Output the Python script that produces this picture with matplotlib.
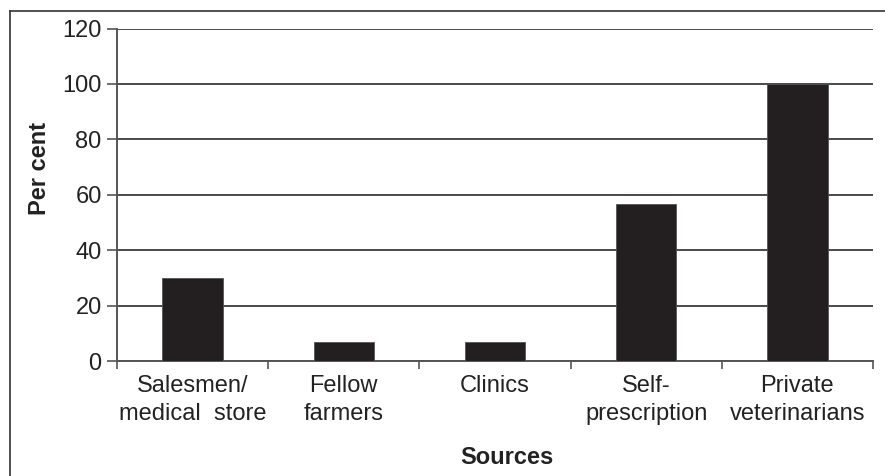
import matplotlib
matplotlib.use("Agg")
from matplotlib import pyplot as plt
from matplotlib.lines import Line2D

plt.rcParams['font.family'] = ['Liberation Sans', 'DejaVu Sans']

sources = ["Salesmen/\nmedical  store", "Fellow\nfarmers", "Clinics",
           "Self-\nprescription", "Private\nveterinarians"]
per_cent = [30, 7, 7, 56.5, 100]
y_ticks = [0, 20, 40, 60, 80, 100, 120]

W, H = 885, 476
fig = plt.figure(figsize=(W / 100, H / 100), dpi=100)
ax = fig.add_axes([117 / W, 1 - 361 / H, (873 - 117) / W, (361 - 28.5) / H])

pos = list(range(len(sources)))
ax.bar(pos, per_cent, width=0.4, color="#231f20", edgecolor="#555555", linewidth=0.6, zorder=3)

ax.set_xlim(-0.5, len(sources) - 0.5)
ax.set_ylim(0, 120)
ax.set_yticks(y_ticks)
ax.yaxis.grid(True, color="#4a4a4a", linewidth=1.4)
ax.set_axisbelow(True)

# boundary ticks without labels, labels on minor ticks at the centres
ax.set_xticks([p - 0.5 for p in pos] + [len(sources) - 0.5])
ax.set_xticklabels([])
ax.set_xticks(pos, minor=True)
ax.set_xticklabels(sources, minor=True, fontsize=17, color="#222222", linespacing=1.35)
ax.tick_params(axis="x", which="major", length=6, width=1.2, color="#555555", direction="out")
ax.tick_params(axis="x", which="minor", length=0, pad=10)
ax.tick_params(axis="y", length=7, width=1.2, color="#555555", pad=4, labelsize=17, labelcolor="#222222")

for s in ["top", "right"]:
    ax.spines[s].set_visible(False)
for s in ["left", "bottom"]:
    ax.spines[s].set_color("#555555")
    ax.spines[s].set_linewidth(1.4)

fig.text(39 / W, 1 - 168 / H, "Per cent", rotation=90, ha="center", va="center",
         fontsize=17, fontweight="bold", color="#222222")
fig.text(507 / W, 1 - 458 / H, "Sources", ha="center", va="center",
         fontsize=17, fontweight="bold", color="#222222")

# outer frame (runs off the right and bottom edges)
fig.add_artist(Line2D([10 / W, 10 / W], [0, 1 - 11 / H], transform=fig.transFigure,
                      color="#333333", linewidth=1.2))
fig.add_artist(Line2D([10 / W, 1], [1 - 11 / H, 1 - 11 / H], transform=fig.transFigure,
                      color="#333333", linewidth=1.2))

fig.savefig("out.png", dpi=100)
